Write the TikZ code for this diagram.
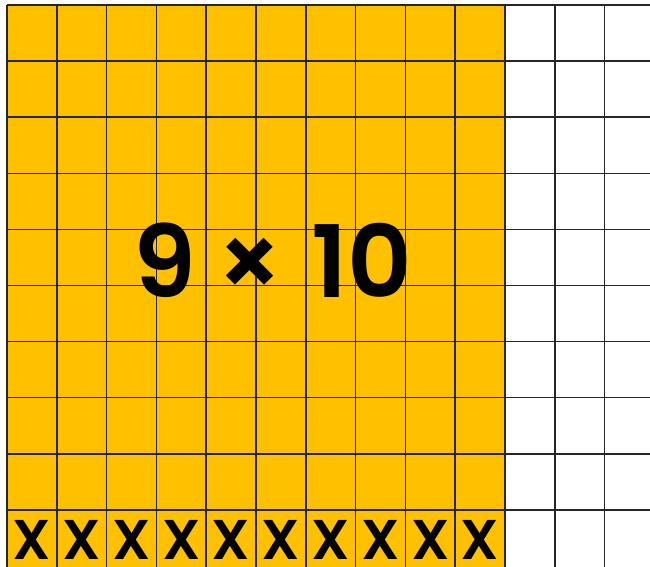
\documentclass[tikz,border=0pt]{standalone}
\usepackage{fontspec}
\setmainfont{Poppins}
\newfontfamily\semifont{Poppins SemiBold}
\usetikzlibrary{positioning}
\definecolor{gridgold}{HTML}{FFC000}
\tikzset{
    cellline/.style={draw=black!85, line width=1.5pt},
    crossmark/.style={font=\fontsize{56}{56}\semifont, inner sep=0pt},
    bigsum/.style={font=\fontsize{100}{100}\semifont, inner sep=0pt}
}

\begin{document}
\begin{tikzpicture}[x=1pt,y=-1pt]
\useasboundingbox (0,0) rectangle (650,566);
\fill[gridgold] (7,5) rectangle (505,570);
\foreach \i in {0,...,12}
    \draw[cellline] (7+49.8*\i,5) -- (7+49.8*\i,570);
\foreach \j in {0,...,9}
    \draw[cellline] (7,5+56.1*\j) -- (655,5+56.1*\j);
\node[bigsum] (product) at (273,260) {9\hspace{20pt}×\hspace{28pt}10};
\foreach \c in {0,...,9}
    \node[crossmark, anchor=base] (x\c) at (31.9+49.8*\c,559) {X};
\end{tikzpicture}
\end{document}
